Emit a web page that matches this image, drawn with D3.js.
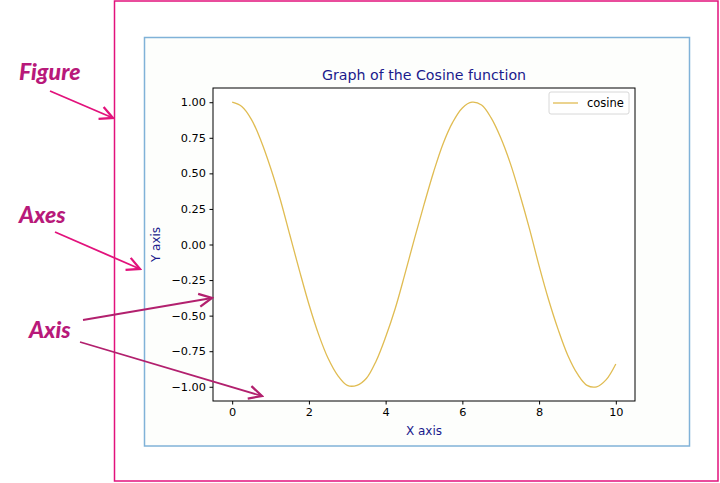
<!DOCTYPE html>
<html>
<head>
<meta charset="utf-8">
<script src="https://cdnjs.cloudflare.com/ajax/libs/d3/7.8.5/d3.min.js"></script>
<style>
  body { margin: 0; background: #fff; }
  svg { display: block; }
  .tick text { font-family: "DejaVu Sans", sans-serif; font-size: 11.3px; fill: #000; }
  .note { font-family: Lato, "Open Sans", sans-serif; font-weight: 900; font-style: italic; font-size: 23px; }
</style>
</head>
<body>
<div id="chart"></div>
<script>
// values
const xValues = [0, 0.25, 0.5, 0.75, 1, 1.25, 1.5, 1.75, 2, 2.25, 2.5, 2.75, 3, 3.25, 3.5, 3.75,
  4, 4.25, 4.5, 4.75, 5, 5.25, 5.5, 5.75, 6, 6.25, 6.5, 6.75, 7, 7.25, 7.5, 7.75,
  8, 8.25, 8.5, 8.75, 9, 9.25, 9.5, 9.75, 10];
const yValues = [1.00, 0.97, 0.88, 0.73, 0.54, 0.32, 0.07, -0.18, -0.42, -0.63, -0.80, -0.92, -0.99, -0.99, -0.94, -0.82,
  -0.65, -0.45, -0.21, 0.04, 0.28, 0.51, 0.71, 0.86, 0.96, 1.00, 0.98, 0.89, 0.75, 0.57, 0.35, 0.11,
  -0.15, -0.39, -0.60, -0.78, -0.91, -0.99, -1.00, -0.95, -0.84];
const xTicks = [0, 2, 4, 6, 8, 10];
const yTicks = [-1.00, -0.75, -0.50, -0.25, 0.00, 0.25, 0.50, 0.75, 1.00];
const seriesName = 'cosine';
const titleText = 'Graph of the Cosine function';
const notes = [
  { text: 'Figure', x: 19, y: 80 },
  { text: 'Axes', x: 19, y: 223 },
  { text: 'Axis', x: 29, y: 338 }
];

const W = 720, H = 483;
const plot = { left: 213, top: 88, right: 635, bottom: 401 };
const pink = '#e2127c', labelPink = '#b8197a', navy = '#1a1a8c';
const lineColor = '#e0bc52';

const svg = d3.select('#chart').append('svg').attr('width', W).attr('height', H);

// figure & axes frames
svg.append('rect').attr('x', 114.5).attr('y', 1).attr('width', 603.5).attr('height', 480)
  .attr('fill', 'none').attr('stroke', pink).attr('stroke-width', 1.5);
svg.append('rect').attr('x', 144.5).attr('y', 37.5).attr('width', 545).attr('height', 408.5)
  .attr('fill', '#fdfefc').attr('stroke', '#80b2d8').attr('stroke-width', 1.5);

const x = d3.scaleLinear().domain([-0.5, 10.5]).range([plot.left, plot.right]);
const y = d3.scaleLinear().domain([-1.1, 1.1]).range([plot.bottom, plot.top]);

svg.append('rect').attr('x', plot.left).attr('y', plot.top)
  .attr('width', plot.right - plot.left).attr('height', plot.bottom - plot.top).attr('fill', '#fff');

const fmtMinus = f => v => f(v).replace('-', '\u2212');

svg.append('g').attr('transform', `translate(0,${plot.bottom})`)
  .call(d3.axisBottom(x).tickValues(xTicks).tickSize(3.5).tickPadding(3.5).tickFormat(fmtMinus(d3.format('d'))))
  .call(g => g.select('.domain').remove());
svg.append('g').attr('transform', `translate(${plot.left},0)`)
  .call(d3.axisLeft(y).tickValues(yTicks).tickSize(3.5).tickPadding(3.5).tickFormat(fmtMinus(d3.format('.2f'))))
  .call(g => g.select('.domain').remove());

const line = d3.line().x(d => x(d[0])).y(d => y(d[1])).curve(d3.curveCatmullRom);
svg.append('path').datum(d3.zip(xValues, yValues))
  .attr('d', line).attr('fill', 'none').attr('stroke', lineColor).attr('stroke-width', 1.3);

svg.append('rect').attr('x', plot.left).attr('y', plot.top)
  .attr('width', plot.right - plot.left).attr('height', plot.bottom - plot.top)
  .attr('fill', 'none').attr('stroke', '#000').attr('stroke-width', 1);

// titles
svg.append('text').attr('x', (plot.left + plot.right) / 2).attr('y', 80).attr('text-anchor', 'middle')
  .attr('font-family', 'DejaVu Sans, sans-serif').attr('font-size', 14.2).attr('fill', navy).text(titleText);
svg.append('text').attr('x', (plot.left + plot.right) / 2).attr('y', 435).attr('text-anchor', 'middle')
  .attr('font-family', 'DejaVu Sans, sans-serif').attr('font-size', 12).attr('fill', navy).text('X axis');
svg.append('text').attr('transform', `translate(160,${(plot.top + plot.bottom) / 2}) rotate(-90)`)
  .attr('text-anchor', 'middle').attr('font-family', 'DejaVu Sans, sans-serif').attr('font-size', 12)
  .attr('fill', navy).text('Y axis');

// legend
const lg = svg.append('g').attr('transform', 'translate(549,92)');
lg.append('rect').attr('width', 80).attr('height', 22).attr('rx', 2)
  .attr('fill', '#fff').attr('stroke', '#d8d8d8');
lg.append('line').attr('x1', 4).attr('x2', 29).attr('y1', 11).attr('y2', 11)
  .attr('stroke', lineColor).attr('stroke-width', 1.3);
lg.append('text').attr('x', 38).attr('y', 15).attr('font-family', 'DejaVu Sans, sans-serif')
  .attr('font-size', 11.5).text(seriesName);

// annotations
svg.append('defs').selectAll('marker').data([['headA', pink], ['headB', '#b2206e']]).join('marker')
  .attr('id', d => d[0]).attr('viewBox', '0 0 10 10').attr('refX', 9).attr('refY', 5)
  .attr('markerWidth', 9).attr('markerHeight', 9).attr('orient', 'auto')
  .append('path').attr('d', 'M1,1 L9,5 L1,9').attr('fill', 'none').attr('stroke', d => d[1]).attr('stroke-width', 1.4);

const arrows = [
  [50, 91, 113, 118, 'headA', pink],
  [55, 232, 140, 269, 'headA', pink],
  [83, 320, 212, 298, 'headB', '#b2206e'],
  [80, 342, 262, 396, 'headB', '#b2206e']
];
svg.selectAll('.arrow').data(arrows).join('line').attr('class', 'arrow')
  .attr('x1', d => d[0]).attr('y1', d => d[1]).attr('x2', d => d[2]).attr('y2', d => d[3])
  .attr('stroke', d => d[5]).attr('stroke-width', 1.8).attr('marker-end', d => `url(#${d[4]})`);

svg.selectAll('.note').data(notes).join('text').attr('class', 'note')
  .attr('x', d => d.x).attr('y', d => d.y).attr('fill', labelPink).text(d => d.text);
</script>
</body>
</html>
